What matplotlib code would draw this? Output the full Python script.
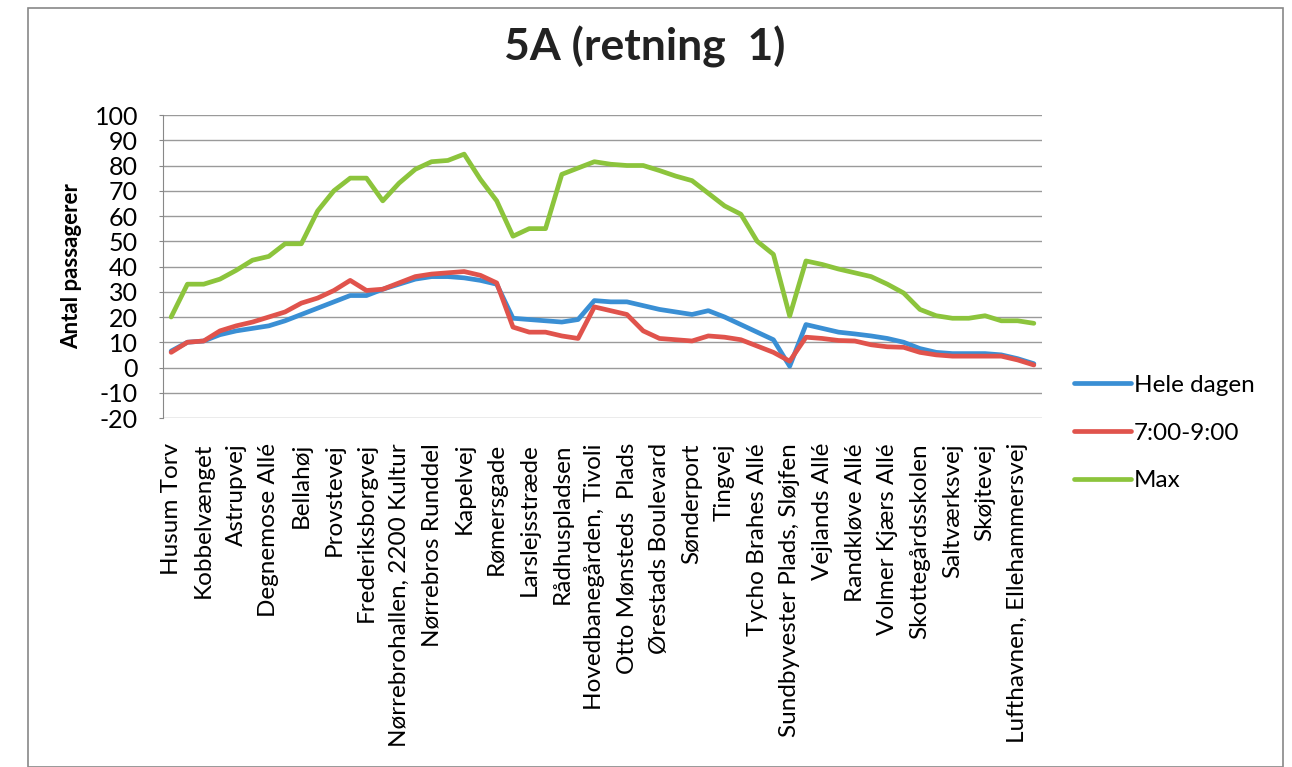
import matplotlib
matplotlib.use("Agg")
import matplotlib.pyplot as plt
from matplotlib.patches import Rectangle

plt.rcParams['font.family'] = ['Lato', 'DejaVu Sans']

stops = ["Husum Torv", "Kobbelvænget", "Astrupvej", "Degnemose Allé", "Bellahøj",
         "Provstevej", "Frederiksborgvej", "Nørrebrohallen, 2200 Kultur",
         "Nørrebros Runddel", "Kapelvej", "Rømersgade", "Larslejsstræde",
         "Rådhuspladsen", "Hovedbanegården, Tivoli", "Otto Mønsteds  Plads",
         "Ørestads Boulevard", "Sønderport", "Tingvej", "Tycho Brahes Allé",
         "Sundbyvester Plads, Sløjfen", "Vejlands Allé", "Randkløve Allé",
         "Volmer Kjærs Allé", "Skottegårdsskolen", "Saltværksvej", "Skøjtevej",
         "Lufthavnen, Ellehammersvej"]

hele_dagen = [6.5, 10, 10.5, 13, 14.5, 15.5, 16.5, 18.5, 21, 23.5, 26, 28.5, 28.5, 31,
              33, 35, 36, 36, 35.5, 34.5, 33, 19.5, 19, 18.5, 18, 19, 26.5, 26,
              26, 24.5, 23, 22, 21, 22.5, 20, 17, 14, 11, 0.5, 17,
              15.5, 14, 13.3, 12.5, 11.5, 10, 7.5, 6, 5.5, 5.5, 5.5, 5, 3.5, 1.5]
morgen = [6, 10, 10.5, 14.5, 16.5, 18, 20, 22, 25.5, 27.5, 30.5, 34.5, 30.5, 31,
          33.5, 36, 37, 37.5, 38, 36.5, 33.5, 16, 14, 14, 12.5, 11.5, 24, 22.5,
          21, 14.5, 11.5, 11, 10.5, 12.5, 12, 11, 8.5, 6, 2.5, 12,
          11.5, 10.7, 10.5, 9, 8.2, 8, 6, 5, 4.5, 4.5, 4.5, 4.5, 3, 1]
maks = [20, 33, 33, 35, 38.5, 42.5, 44, 49, 49, 62, 70, 75, 75, 66,
        73, 78.5, 81.5, 82, 84.5, 74.5, 66, 52, 55, 55, 76.5, 79, 81.5, 80.5,
        80, 80, 78, 75.8, 74, 69, 64, 60.7, 50, 44.8, 20.4, 42.2,
        40.8, 39, 37.5, 36, 33, 29.5, 23, 20.5, 19.5, 19.5, 20.5, 18.5, 18.5, 17.5]

series_names = ["Hele dagen", "7:00-9:00", "Max"]
colors = ["#3a8fd4", "#e0534c", "#8cc43c"]
yticks = list(range(-20, 101, 10))

W, H = 1292, 767
fig = plt.figure(figsize=(W / 100, H / 100), dpi=100)
fig.patches.append(Rectangle((28 / W, 0.0), (1283 - 28) / W, 1 - 8 / H,
                             transform=fig.transFigure, fill=False,
                             edgecolor="#888888", linewidth=1.2))

ax = fig.add_axes([163 / W, 1 - 418 / H, (1042 - 163) / W, (418 - 115) / H])
x = list(range(len(maks)))
for vals, name, c in zip([hele_dagen, morgen, maks], series_names, colors):
    ax.plot(x, vals, color=c, linewidth=3.4, label=name, solid_joinstyle='round',
            solid_capstyle='round')

ax.set_xlim(-0.5, len(maks) - 0.5)
ax.set_ylim(-20, 100)
ax.set_yticks(yticks)
ax.set_yticklabels([str(v) for v in yticks], fontsize=18)
ax.yaxis.grid(True, color="#9a9a9a", linewidth=1.0)
ax.set_axisbelow(True)
ax.set_xticks(list(range(0, len(maks), 2))[:len(stops)])
ax.set_xticklabels(stops, rotation=90, fontsize=17.5)
ax.tick_params(axis='x', length=0, pad=18)
ax.tick_params(axis='y', length=3, color="#888888", pad=15)
for s in ["top", "right", "bottom"]:
    ax.spines[s].set_visible(False)
ax.spines["left"].set_color("#888888")
ax.set_ylabel("Antal passagerer", fontsize=16, fontweight='bold', labelpad=9)

fig.text(645 / W, 1 - 47 / H, "5A (retning  1)", ha='center', va='center',
         fontsize=32, fontweight='bold', color="#222222")

fig.legend(loc='center left', bbox_to_anchor=(1052 / W, 1 - 433 / H),
           frameon=False, fontsize=17.5, handlelength=2.35, handletextpad=0.12,
           labelspacing=1.1)

fig.savefig("out.png", dpi=100)
